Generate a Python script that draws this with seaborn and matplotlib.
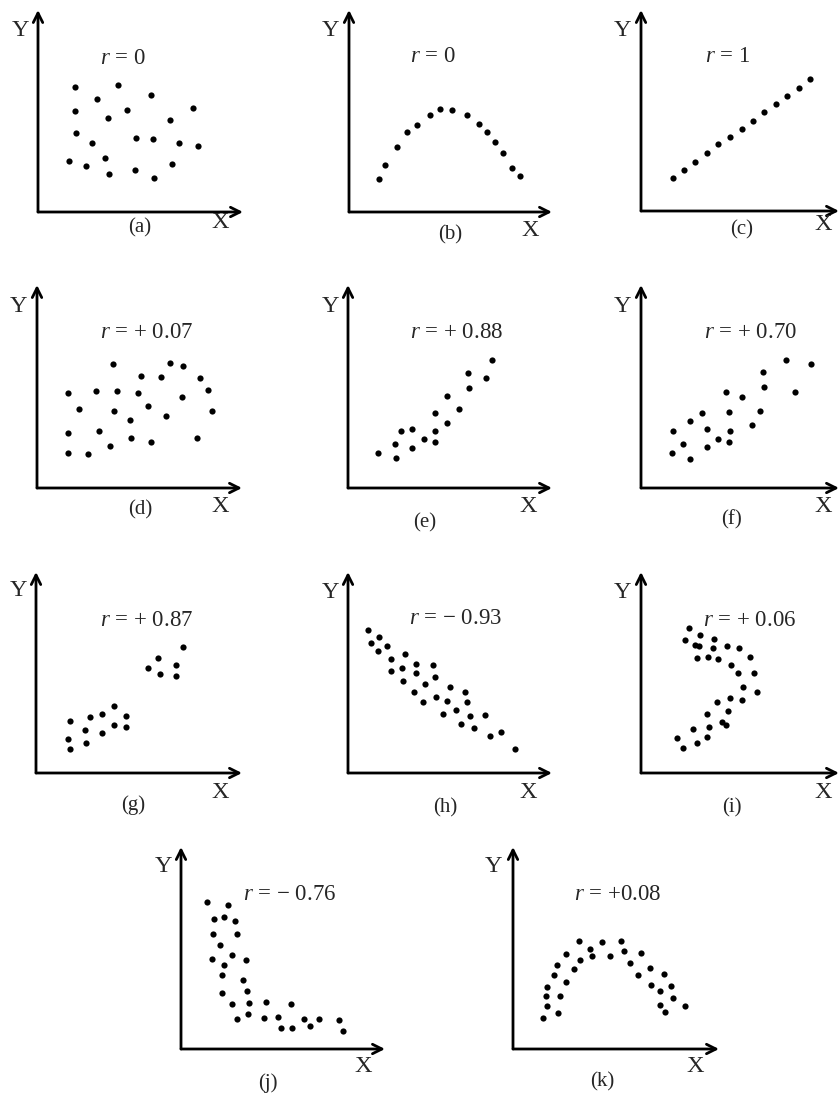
import matplotlib
matplotlib.use("Agg")
import matplotlib.pyplot as plt
import seaborn as sns
import pandas as pd

sns.set_theme(style="white")
plt.rcParams['font.family'] = ['Liberation Serif', 'DejaVu Serif']
plt.rcParams['mathtext.fontset'] = 'custom'
plt.rcParams['mathtext.it'] = 'Liberation Serif:italic'
plt.rcParams['mathtext.rm'] = 'Liberation Serif'

# ---------------- data ----------------
a_x = [37.3, 79.7, 112.7, 59.3, 155, 37.3, 89, 69.7, 132.3, 38.3, 54, 98, 114.7, 141.3, 159.7, 30.7, 48.3, 66.7, 71.3, 97, 116.3, 133.7]
a_y = [125, 126.7, 116.7, 113, 104.3, 100.7, 101.7, 94, 92.3, 79.3, 69, 74, 73, 69, 65.7, 50.7, 46, 54.3, 37.7, 42.3, 34.3, 47.7]

b_x = [29.7, 36, 47.7, 57.7, 68, 81.3, 91, 103.3, 118.3, 129.7, 137.7, 146, 154, 163.3, 171]
b_y = [33.3, 47, 65, 79.7, 87.3, 97.3, 102.7, 102.3, 97.3, 88.3, 79.7, 70, 59, 44.3, 35.7]

c_x = [31.7, 42.7, 54.3, 66, 77.3, 88.7, 100.7, 111.7, 123.3, 135, 146.3, 157.7, 168.7]
c_y = [32.7, 41.3, 49.3, 58, 66.7, 74, 82.3, 90.3, 99, 107, 115.3, 123.3, 131.7]

d_x = [76, 132.7, 146, 103.7, 123.7, 162.7, 31, 59, 80.3, 100.7, 145, 171.3, 42.3, 77, 111, 174.7, 93.3, 129.3, 31, 62.3, 93.7, 114.3, 160, 73.3, 31.3, 50.7]
d_y = [124.3, 125, 121.7, 112.3, 111.3, 110, 95, 97, 97.3, 95, 91, 98.3, 78.7, 77, 82, 77, 67.7, 72, 55, 56.7, 49.7, 46.3, 50.3, 42, 35.3, 33.7]

e_x = [144, 120, 137.7, 121, 99.3, 110.7, 87.3, 99, 53.3, 64.3, 87.3, 76, 87.3, 46.7, 64.3, 30, 48]
e_y = [127.7, 115, 109.7, 100, 91.7, 79.3, 75.3, 65.3, 56.7, 59.3, 57, 48.7, 46.3, 44.3, 39.7, 35.3, 30]

f_x = [145.3, 170.3, 121.7, 123.3, 154, 85.3, 100.7, 61, 88.3, 119.3, 49, 111.3, 32.3, 66, 89.3, 77.3, 88.3, 42.3, 66, 30.7, 49.3]
f_y = [127.7, 124.3, 115.7, 100.7, 96, 96, 91.3, 74.7, 75.7, 77.3, 66.7, 63.3, 57, 59.3, 57.3, 49, 46.3, 43.7, 40.7, 34.7, 29.3]

g_x = [146.7, 122.3, 139.7, 112.3, 123.7, 140, 77.7, 54.3, 66, 89.7, 34, 48.7, 77.7, 89.7, 66, 31.7, 50, 34]
g_y = [126.3, 114.7, 108.3, 105, 99.3, 97, 67, 56.3, 58.7, 56.7, 51.7, 43.3, 48, 45.7, 40, 34.3, 29.7, 24.3]

h_x = [20, 23.3, 31, 30.3, 39, 42.7, 57, 43, 53.7, 68, 67.7, 84.7, 55.3, 87, 66, 77, 101.7, 117.3, 74.7, 87.7, 99.3, 119, 95.3, 107.7, 122.3, 137.3, 113.3, 125.7, 142, 152.7, 167.3]
h_y = [143.3, 129.7, 135.7, 121.7, 127, 113.7, 119.3, 101.7, 104.7, 109.3, 100, 108.3, 92.3, 96.3, 81, 88.7, 85.7, 81, 70.7, 75.7, 72.3, 71, 59, 63.3, 56.7, 58.3, 49.3, 45.3, 36.7, 41, 23.7]

i_x = [47.7, 59, 44, 73, 54, 58, 71.7, 85.7, 98, 56, 67, 77, 109, 90, 97.3, 112.7, 102, 115.7, 75.7, 89, 101, 66.3, 87, 81, 85, 52, 68.3, 36.3, 66.3, 42.3, 56.3]
i_y = [144.7, 137.7, 133, 134, 128, 127.3, 124.7, 127.3, 124.7, 115, 116, 114, 116.3, 108, 100.3, 100.3, 86.3, 81.3, 71.3, 75.3, 72.7, 59, 62.3, 50.7, 48, 44.3, 46.3, 35, 36, 25.3, 30.3]

j_x = [26, 47.3, 32.7, 43.3, 53.7, 32, 55.7, 38.7, 30.7, 51.3, 65, 42.7, 40.7, 61.7, 40.7, 65.7, 51.3, 67.7, 85.3, 110.3, 55.7, 66.7, 82.7, 97, 100, 111, 123.3, 128.7, 138, 157.7, 162]
j_y = [147.3, 143.7, 130.3, 132.3, 127.7, 115, 114.7, 103.7, 90, 94.3, 89, 84, 73.7, 68.7, 55.7, 57.7, 45, 45.7, 47, 45, 29.7, 35.3, 31.3, 32, 21.3, 20.7, 30, 22.7, 30.3, 29, 18.3]

k_x = [66, 88.7, 108, 76.7, 53, 78.7, 96.7, 110.7, 128.3, 66.7, 44, 117.3, 61.3, 137, 41.3, 125, 151.3, 53, 138.3, 147.3, 158, 34, 33.3, 46.7, 159.7, 34, 147.3, 172.3, 44.7, 152.3, 30]
k_y = [107.7, 107.3, 108.3, 100.3, 94.7, 92.7, 93.3, 97.7, 95.7, 89.3, 83.7, 86.3, 80, 81, 73.7, 74, 75, 67, 63.7, 58.3, 63.3, 62, 53.3, 53.3, 50.7, 42.7, 44.3, 43.3, 36.3, 37, 30.7]

captions = ["(a)", "(b)", "(c)", "(d)", "(e)", "(f)", "(g)", "(h)", "(i)", "(j)", "(k)"]
r_labels = ["0", "0", "1", "+ 0.07", "+ 0.88", "+ 0.70", "+ 0.87", "\u2212 0.93", "+ 0.06", "\u2212 0.76", "+0.08"]

# ---------------- layout (pixel geometry of each panel) ----------------
FW, FH = 840, 1093
# origin x, origin y, top y, arrow tip x
geom = [
    (38, 212, 10, 243), (349, 212, 10, 552), (641, 211, 10, 839),
    (37, 488, 285, 242), (348, 488, 285, 552), (641, 488, 285, 839),
    (36, 773, 572, 242), (348, 773, 572, 552), (641, 773, 572, 839),
    (181, 1049, 847, 385), (513, 1049, 847, 719),
]
# r-label, Y, X, caption positions (pixels)
labpos = [
    ((123, 58), (20, 30), (220, 222), (140, 228)),
    ((433, 57), (330, 30), (530, 230), (450, 235)),
    ((728, 57), (622, 30), (823, 224), (742, 230)),
    ((147, 333), (18, 307), (220, 507), (140, 510)),
    ((457, 333), (330, 307), (528, 507), (425, 523)),
    ((750, 332), (622, 307), (823, 507), (732, 520)),
    ((147, 620), (18, 590), (220, 793), (133, 805)),
    ((455, 618), (330, 593), (528, 793), (445, 808)),
    ((750, 620), (622, 592), (823, 793), (732, 808)),
    ((290, 895), (163, 867), (363, 1067), (268, 1083)),
    ((618, 895), (493, 867), (695, 1067), (602, 1082)),
]

xs = [a_x, b_x, c_x, d_x, e_x, f_x, g_x, h_x, i_x, j_x, k_x]
ys = [a_y, b_y, c_y, d_y, e_y, f_y, g_y, h_y, i_y, j_y, k_y]

fig = plt.figure(figsize=(FW / 100, FH / 100), dpi=100)
fig.patch.set_facecolor("white")

def fx(px):
    return px / FW

def fy(py):
    return 1 - py / FH

for idx in range(11):
    ox, oy, ty, tx = geom[idx]
    W, H = tx - ox, oy - ty
    ax = fig.add_axes([fx(ox), fy(oy), W / FW, H / FH])
    ax.set_xlim(0, W)
    ax.set_ylim(0, H)
    ax.set_axis_off()
    df = pd.DataFrame({"x": xs[idx], "y": ys[idx]})
    sns.scatterplot(data=df, x="x", y="y", ax=ax, color="black", s=20,
                    edgecolor="black", linewidth=0, legend=False)
    ax.set_axis_off()
    arrow = dict(arrowstyle="->", lw=2.0, color="black", mutation_scale=17,
                 shrinkA=0, shrinkB=0)
    ax.annotate("", xy=(W, 0), xytext=(0, 0), arrowprops=arrow, annotation_clip=False)
    ax.annotate("", xy=(0, H), xytext=(0, 0), arrowprops=arrow, annotation_clip=False)

    (rx, ry), (yx, yy), (xx, xy), (cx, cy) = labpos[idx]
    fig.text(fx(rx), fy(ry), r"$\mathit{r}$ = " + r_labels[idx], fontsize=16.5,
             ha="center", va="center")
    fig.text(fx(yx), fy(yy), "Y", fontsize=17.5, ha="center", va="center")
    fig.text(fx(xx), fy(xy), "X", fontsize=17.5, ha="center", va="center")
    fig.text(fx(cx), fy(cy), captions[idx], fontsize=15, ha="center", va="center")

fig.savefig("out.png", dpi=100, facecolor="white")
